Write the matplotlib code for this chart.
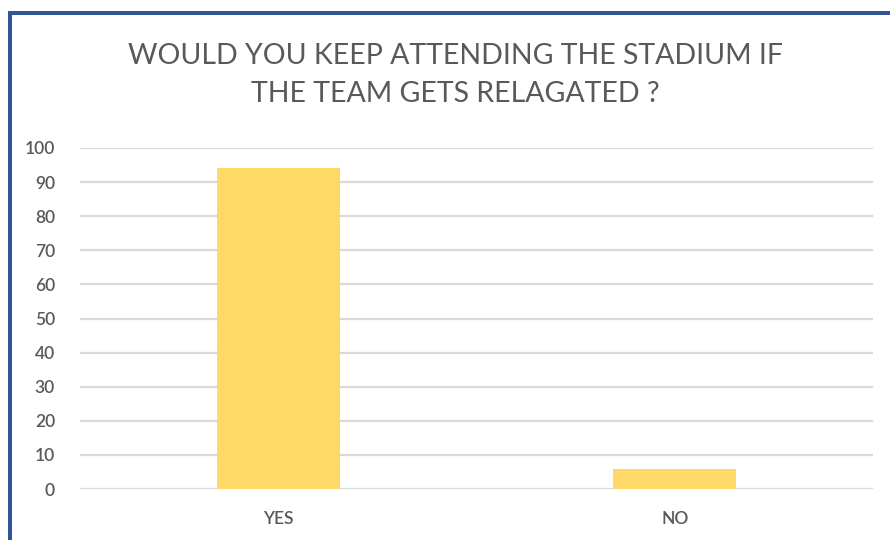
import matplotlib
matplotlib.use("Agg")
import matplotlib.pyplot as plt
from matplotlib.patches import Rectangle

categories = ["YES", "NO"]
values = [94, 6]
yticks = [0, 10, 20, 30, 40, 50, 60, 70, 80, 90, 100]
title = "WOULD YOU KEEP ATTENDING THE STADIUM IF\nTHE TEAM GETS RELAGATED ?"

plt.rcParams["font.family"] = ["Lato", "DejaVu Sans"]

W, H = 890, 540
fig = plt.figure(figsize=(W / 100, H / 100), dpi=100)
fig.patch.set_facecolor("white")

# blue frame around the chart (left and top edges visible)
blue = "#2F5597"
fig.add_artist(Rectangle((8 / W, 0), 4 / W, 1 - 11 / H, transform=fig.transFigure,
                         facecolor=blue, edgecolor="none"))
fig.add_artist(Rectangle((8 / W, 1 - 15 / H), 1 - 8 / W, 4 / H, transform=fig.transFigure,
                         facecolor=blue, edgecolor="none"))

ax = fig.add_axes([80 / W, 1 - 489 / H, (873 - 80) / W, (489 - 148) / H])
x = list(range(len(categories)))
ax.bar(x, values, width=0.31, color="#FFD966", zorder=3)
ax.set_xlim(-0.5, len(categories) - 0.5)
ax.set_ylim(0, 100)
ax.set_yticks(yticks)
ax.set_yticklabels([str(t) for t in yticks])
ax.set_xticks(x)
ax.set_xticklabels(categories)

for s in ax.spines.values():
    s.set_visible(False)
ax.grid(axis="y", color="#D9D9D9", linewidth=1.6, zorder=0)
ax.set_axisbelow(True)
ax.tick_params(axis="both", length=0, colors="#595959", labelsize=12.5)
ax.tick_params(axis="y", pad=18)
ax.tick_params(axis="x", pad=16)
for lbl in ax.get_xticklabels() + ax.get_yticklabels():
    lbl.set_fontweight("semibold")
ax.patch.set_alpha(0)

fig.text(455 / W, 1 - 75 / H, title, ha="center", va="center", fontsize=20.5,
         color="#595959", linespacing=1.55)

fig.savefig("out.png", dpi=100)
